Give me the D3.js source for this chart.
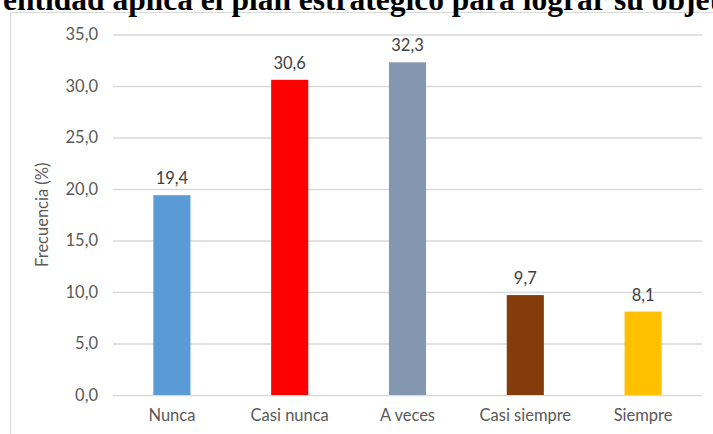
<!DOCTYPE html>
<html>
<head>
<meta charset="utf-8">
<script src="https://cdn.jsdelivr.net/npm/d3@7"></script>
<style>
  html, body { margin: 0; padding: 0; background: #ffffff; overflow: hidden; }
  svg { display: block; }
</style>
</head>
<body>
<svg id="chart" width="713" height="434"></svg>
<script>
// ---- data ----
const categories = ["Nunca", "Casi nunca", "A veces", "Casi siempre", "Siempre"];
const values = [19.4, 30.6, 32.3, 9.7, 8.1];
const yTicks = [0, 5, 10, 15, 20, 25, 30, 35];
const barColors = ["#5B9BD5", "#FF0000", "#8497B0", "#843C0C", "#FFC000"];
const titleText = "entidad aplica el plan estratégico para lograr su objetivos";
const yAxisTitle = "Frecuencia (%)";

// ---- layout ----
const W = 713, H = 434;
const plot = { left: 113, right: 702, top: 34.5, bottom: 395 };
const fontSans = "Lato, 'Open Sans', sans-serif";
const fontSize = "16.5px";

const svg = d3.select("#chart");
const locale = d3.formatLocale({ decimal: ",", thousands: ".", grouping: [3], currency: ["", ""] });
const fmt = locale.format(".1f");

const x = d3.scaleBand().domain(categories).range([plot.left, plot.right]).paddingInner(0.685).paddingOuter(0.3425);
const y = d3.scaleLinear().domain([0, 35]).range([plot.bottom, plot.top]);

// chart area border (left & top visible)
svg.append("line").attr("x1", 10.5).attr("x2", 10.5).attr("y1", 12.5).attr("y2", H + 2)
  .attr("stroke", "#D9D9D9").attr("stroke-width", 1.2);
svg.append("line").attr("x1", 10.5).attr("x2", W + 2).attr("y1", 12.5).attr("y2", 12.5)
  .attr("stroke", "#D9D9D9").attr("stroke-width", 1.2);

// gridlines + y tick labels via axis
const yAxis = d3.axisLeft(y).tickValues(yTicks).tickFormat(fmt).tickSize(-(plot.right - plot.left)).tickPadding(15);
const gy = svg.append("g").attr("transform", `translate(${plot.left},0)`).call(yAxis);
gy.select(".domain").remove();
gy.selectAll(".tick line").attr("stroke", "#D9D9D9").attr("stroke-width", 1.3);
gy.selectAll(".tick text").attr("fill", "#595959").style("font-family", fontSans).style("font-size", fontSize);

// bars
svg.append("g").selectAll("rect").data(values).join("rect")
  .attr("x", (d, i) => x(categories[i]))
  .attr("width", x.bandwidth())
  .attr("y", d => y(d))
  .attr("height", d => y(0) - y(d))
  .attr("fill", (d, i) => barColors[i]);

// data labels
svg.append("g").selectAll("text").data(values).join("text")
  .attr("x", (d, i) => x(categories[i]) + x.bandwidth() / 2)
  .attr("y", d => y(d) - 11)
  .attr("text-anchor", "middle")
  .attr("fill", "#404040")
  .style("font-family", fontSans).style("font-size", fontSize)
  .text(d => fmt(d));

// x axis labels
const xAxis = d3.axisBottom(x).tickSize(0).tickPadding(14);
const gx = svg.append("g").attr("transform", `translate(0,${plot.bottom})`).call(xAxis);
gx.select(".domain").remove();
gx.selectAll(".tick text").attr("fill", "#595959").style("font-family", fontSans).style("font-size", fontSize);

// y axis title
svg.append("text")
  .attr("transform", `translate(48,${(plot.top + plot.bottom) / 2}) rotate(-90)`)
  .attr("text-anchor", "middle")
  .attr("fill", "#595959")
  .style("font-family", fontSans).style("font-size", fontSize)
  .text(yAxisTitle);

// title (clipped at top and right of the picture, as in the reference)
svg.append("text")
  .attr("x", 3).attr("y", 10)
  .attr("fill", "#000000")
  .style("font-family", "'Liberation Serif', 'Times New Roman', serif")
  .style("font-weight", "bold")
  .style("font-size", "31.5px")
  .text(titleText);
</script>
</body>
</html>
